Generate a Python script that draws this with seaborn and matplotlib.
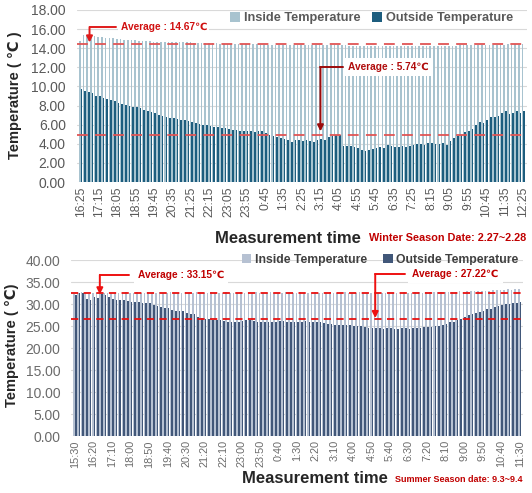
import numpy as np
import pandas as pd
import matplotlib
matplotlib.use("Agg")
import matplotlib.pyplot as plt
import seaborn as sns

sns.set_style("white")
plt.rcParams['font.family'] = ['Liberation Sans', 'DejaVu Sans']

# ---- winter data (10-min samples, 2.27 16:25 -> 2.28 12:25) ----
winter_inside = [
    14.8, 15.4, 15.4, 15.3, 15.3, 15.2, 15.2, 15.1, 15.1, 15.1, 15.0,
    15.0, 14.9, 14.9, 14.9, 14.9, 14.8, 14.8, 14.8, 14.8, 14.7,
    14.7, 14.7, 14.7, 14.6, 14.6, 14.6, 14.6, 14.6, 14.6, 14.6,
    14.5, 14.5, 14.5, 14.5, 14.5, 14.5, 14.5, 14.4, 14.4, 14.4,
    14.4, 14.4, 14.4, 14.4, 14.4, 14.4, 14.4, 14.4, 14.3, 14.3,
    14.3, 14.3, 14.3, 14.3, 14.3, 14.3, 14.3, 14.3, 14.3, 14.3,
    14.3, 14.3, 14.3, 14.3, 14.3, 14.3, 14.3, 14.3, 14.3, 14.3,
    14.3, 14.3, 14.2, 14.2, 14.2, 14.2, 14.2, 14.2, 14.2, 14.2,
    14.2, 14.2, 14.2, 14.2, 14.2, 14.2, 14.2, 14.2, 14.2, 14.2,
    14.2, 14.2, 14.2, 14.2, 14.2, 14.2, 14.2, 14.2, 14.2, 14.2,
    14.2, 14.2, 14.3, 14.3, 14.3, 14.3, 14.3, 14.3, 14.3, 14.3,
    14.3, 14.3, 14.3, 14.3, 14.3, 14.4, 14.3, 14.4, 14.3, 14.4,
]
winter_outside = [
    9.7, 9.5, 9.4, 9.3, 9.0, 9.0, 8.8, 8.7, 8.6, 8.5, 8.3,
    8.2, 8.1, 8.0, 7.8, 7.8, 7.7, 7.5, 7.4, 7.3, 7.2,
    7.0, 6.9, 6.8, 6.7, 6.7, 6.6, 6.5, 6.5, 6.4, 6.3,
    6.2, 6.1, 6.0, 6.0, 5.9, 5.8, 5.8, 5.7, 5.6, 5.5,
    5.4, 5.4, 5.3, 5.3, 5.3, 5.3, 5.2, 5.3, 5.3, 5.1,
    4.9, 4.8, 4.7, 4.6, 4.5, 4.4, 4.2, 4.4, 4.4, 4.3,
    4.4, 4.3, 4.2, 4.4, 4.5, 4.4, 4.7, 4.8, 4.9, 4.9,
    3.8, 3.8, 3.8, 3.7, 3.6, 3.4, 3.2, 3.4, 3.5, 3.6,
    3.7, 3.6, 3.9, 3.8, 3.7, 3.7, 3.8, 3.7, 3.8, 3.9,
    4.0, 4.0, 3.9, 4.1, 4.1, 4.0, 4.0, 4.1, 3.9, 4.3,
    4.6, 4.8, 4.9, 5.2, 5.3, 5.5, 6.0, 6.3, 6.2, 6.5,
    6.8, 6.8, 6.9, 7.2, 7.4, 7.1, 7.2, 7.4, 7.2, 7.4,
]
winter_ticks = ["16:25", "17:15", "18:05", "18:55", "19:45", "20:35", "21:25",
                "22:15", "23:05", "23:55", "0:45", "1:35", "2:25", "3:15",
                "4:05", "4:55", "5:45", "6:35", "7:25", "8:15", "9:05",
                "9:55", "10:45", "11:35", "12:25"]
winter_avg_in, winter_avg_out = 14.4, 4.9   # where the dashed lines sit

# ---- summer data (10-min samples, 9.3 15:30 -> 9.4 11:30) ----
summer_inside = [
    32.3, 32.6, 32.7, 32.4, 32.3, 32.5, 32.4, 32.6, 32.6, 32.5, 32.5,
    32.6, 32.6, 32.6, 32.7, 32.6, 32.6, 32.7, 32.6, 32.6, 32.7,
    32.6, 32.6, 32.7, 32.6, 32.6, 32.7, 32.6, 32.6, 32.6, 32.7,
    32.6, 32.6, 32.7, 32.6, 32.6, 32.6, 32.7, 32.6, 32.6, 32.6,
    32.7, 32.6, 32.6, 32.6, 32.7, 32.6, 32.6, 32.6, 32.7, 32.6,
    32.6, 32.6, 32.7, 32.6, 32.6, 32.6, 32.7, 32.6, 32.6, 32.6,
    32.7, 32.6, 32.6, 32.6, 32.7, 32.6, 32.6, 32.6, 32.7, 32.6,
    32.6, 32.6, 32.7, 32.6, 32.6, 32.6, 32.7, 32.6, 32.6, 32.6,
    32.7, 32.6, 32.6, 32.6, 32.7, 32.6, 32.6, 32.6, 32.7, 32.6,
    32.6, 32.7, 32.7, 32.6, 32.7, 32.7, 32.7, 32.8, 32.7, 32.8,
    32.8, 32.8, 32.8, 32.9, 32.8, 32.9, 32.9, 32.9, 32.9, 32.9,
    32.9, 33.0, 33.1, 33.2, 33.2, 33.2, 33.3, 33.2, 33.3, 33.3,
]
summer_outside = [
    32.0, 32.4, 32.4, 31.2, 30.9, 31.6, 31.3, 32.2, 32.0, 31.6, 31.2,
    31.0, 30.8, 30.8, 30.6, 30.5, 30.5, 30.4, 30.3, 30.3, 30.2,
    29.8, 29.6, 29.4, 29.2, 29.0, 28.6, 28.5, 28.4, 28.3, 27.9,
    27.7, 27.7, 27.0, 26.8, 26.6, 26.5, 26.4, 26.4, 26.3, 26.2,
    26.0, 25.9, 25.9, 26.0, 26.2, 26.4, 26.3, 26.2, 26.0, 25.9,
    25.8, 25.8, 25.9, 26.0, 26.1, 26.1, 26.0, 25.8, 25.8, 25.9,
    26.0, 26.1, 26.0, 25.9, 25.8, 25.8, 25.7, 25.5, 25.4, 25.3,
    25.3, 25.2, 25.2, 25.2, 25.1, 25.1, 25.0, 24.8, 24.6, 24.5,
    24.5, 24.5, 24.4, 24.5, 24.5, 24.4, 24.4, 24.5, 24.5, 24.4,
    24.5, 24.5, 24.6, 24.7, 24.7, 24.8, 24.9, 25.0, 25.3, 25.5,
    25.8, 26.0, 26.3, 26.7, 27.1, 27.5, 27.8, 27.9, 28.2, 28.5,
    28.8, 28.9, 29.3, 29.5, 29.8, 30.0, 30.1, 30.3, 30.3, 30.4,
]
summer_ticks = ["15:30", "16:20", "17:10", "18:00", "18:50", "19:40", "20:30",
                "21:20", "22:10", "23:00", "23:50", "0:40", "1:30", "2:20",
                "3:10", "4:00", "4:50", "5:40", "6:30", "7:20", "8:10",
                "9:00", "9:50", "10:40", "11:30"]
summer_avg_in, summer_avg_out = 32.6, 26.7


def times(start_h, start_m, n):
    out = []
    for i in range(n):
        t = start_h * 60 + start_m + 10 * i
        out.append(f"{(t // 60) % 24}:{t % 60:02d}")
    return out


def long_df(inside, outside, t):
    return pd.DataFrame({
        "time": t * 2,
        "temp": inside + outside,
        "series": ["Inside Temperature"] * len(t) + ["Outside Temperature"] * len(t),
    })


def elbow(ax, x_v, x_h, y_h, y_tip, color):
    ax.plot([x_h, x_v], [y_h, y_h], color=color, lw=1.4, zorder=6)
    ax.annotate("", xy=(x_v, y_tip), xytext=(x_v, y_h + 0.02),
                arrowprops=dict(arrowstyle="-|>", color=color, lw=1.4,
                                mutation_scale=9, shrinkA=0, shrinkB=0),
                zorder=6)


def style_axis(ax, ymax, ystep, ticks, tcolor, xsize):
    for p in ax.patches:
        p.set_antialiased(False)
    ax.set_ylim(0, ymax)
    vals = np.arange(0, ymax + 0.01, ystep)
    ax.set_yticks(vals)
    ax.set_yticklabels([f"{v:.2f}" for v in vals], fontsize=10, color=tcolor)
    ax.set_xticks(range(0, 121, 5))
    ax.set_xticklabels(ticks, rotation=90, fontsize=xsize, color=tcolor)
    ax.set_xlim(-1, 121)
    ax.set_xlabel("")
    ax.set_ylabel("")
    ax.grid(axis="y", color="#d9d9d9", lw=0.8)
    ax.set_axisbelow(True)
    sns.despine(ax=ax, left=True, bottom=True)
    ax.tick_params(axis="y", length=0, pad=8)
    ax.tick_params(axis="x", length=0, pad=3)


fig = plt.figure(figsize=(5.32, 4.93), dpi=100)
ann = dict(fontsize=7.3, fontweight="bold", va="center", ha="left", zorder=7)

# ================= winter =================
ax1 = fig.add_axes([0.1447, 0.6308, 0.846, 0.349])
w_times = times(16, 25, 121)
sns.barplot(data=long_df(winter_inside, winter_outside, w_times), x="time", y="temp",
            hue="series", palette={"Inside Temperature": "#a8c3cf",
                                   "Outside Temperature": "#1d5d7e"},
            dodge=True, width=0.9, gap=0, saturation=1, errorbar=None,
            linewidth=0, ax=ax1)
style_axis(ax1, 18, 2, winter_ticks, "#595959", 8.8)
ax1.axhline(winter_avg_in, color="#e05555", lw=1.3, ls=(0, (6, 4)), zorder=5)
ax1.axhline(winter_avg_out, color="#e05555", lw=1.3, ls=(0, (6, 4)), zorder=5)

h, l = ax1.get_legend_handles_labels()
ax1.legend(h, l, loc="center", bbox_to_anchor=(0.655, 0.953), ncol=2, frameon=False,
           handlelength=0.8, handleheight=0.8, handletextpad=0.3, columnspacing=0.9,
           prop=dict(size=9.2, weight="bold"), labelcolor="#595959", borderpad=0.1)

elbow(ax1, 2.4, 9.5, 16.2, 14.6, "#e01b1b")
ax1.text(10.8, 16.2, "Average : 14.67℃", color="#d01010",
         bbox=dict(facecolor="white", edgecolor="none", pad=1.5), **ann)
elbow(ax1, 65, 71, 12.0, 5.3, "#9b0a0a")
ax1.text(72.5, 12.0, "Average : 5.74℃", color="#b00c0c",
         bbox=dict(facecolor="white", edgecolor="none", pad=3), **ann)

fig.text(0.028, 0.807, "Temperature ( ℃ )", rotation=90, ha="center", va="center",
         fontsize=10.5, fontweight="bold")
fig.text(0.541, 0.517, "Measurement time", ha="center", va="center",
         fontsize=12, fontweight="bold")
fig.text(0.99, 0.517, "Winter Season Date: 2.27~2.28", ha="right", va="center",
         fontsize=7.8, fontweight="bold", color="#c00000")

# ================= summer =================
ax2 = fig.add_axes([0.134, 0.1156, 0.850, 0.357])
s_times = times(15, 30, 121)
sns.barplot(data=long_df(summer_inside, summer_outside, s_times), x="time", y="temp",
            hue="series", palette={"Inside Temperature": "#b6c1d2",
                                   "Outside Temperature": "#415779"},
            dodge=True, width=0.9, gap=0, saturation=1, errorbar=None,
            linewidth=0, ax=ax2)
style_axis(ax2, 40, 5, summer_ticks, "#6b6b6b", 7.8)
ax2.axhline(summer_avg_in, color="#e81010", lw=1.3, ls=(0, (4, 3)), zorder=5)
ax2.axhline(summer_avg_out, color="#e81010", lw=1.3, ls=(0, (4, 3)), zorder=5)

h, l = ax2.get_legend_handles_labels()
ax2.legend(h, l, loc="center", bbox_to_anchor=(0.683, 1.0), ncol=2, frameon=False,
           handlelength=0.8, handleheight=0.8, handletextpad=0.3, columnspacing=1.3,
           prop=dict(size=8.8, weight="bold"), labelcolor="#404040", borderpad=0.1)

elbow(ax2, 6.7, 14.5, 36.6, 32.2, "#ee1111")
ax2.text(17, 36.6, "Average : 33.15℃", color="#c00000",
         bbox=dict(facecolor="white", edgecolor="none", pad=3), **ann)
elbow(ax2, 81, 89, 36.8, 26.8, "#ee1111")
ax2.text(91, 36.8, "Average : 27.22℃", color="#c00000",
         bbox=dict(facecolor="white", edgecolor="none", pad=3), **ann)

fig.text(0.023, 0.30, "Temperature ( ℃)", rotation=90, ha="center", va="center",
         fontsize=10.5, fontweight="bold")
fig.text(0.592, 0.030, "Measurement time", ha="center", va="center",
         fontsize=12, fontweight="bold")
fig.text(0.983, 0.028, "Summer Season date: 9.3~9.4", ha="right", va="center",
         fontsize=6.5, fontweight="bold", color="#c00000")

fig.savefig("out.png", dpi=100)
